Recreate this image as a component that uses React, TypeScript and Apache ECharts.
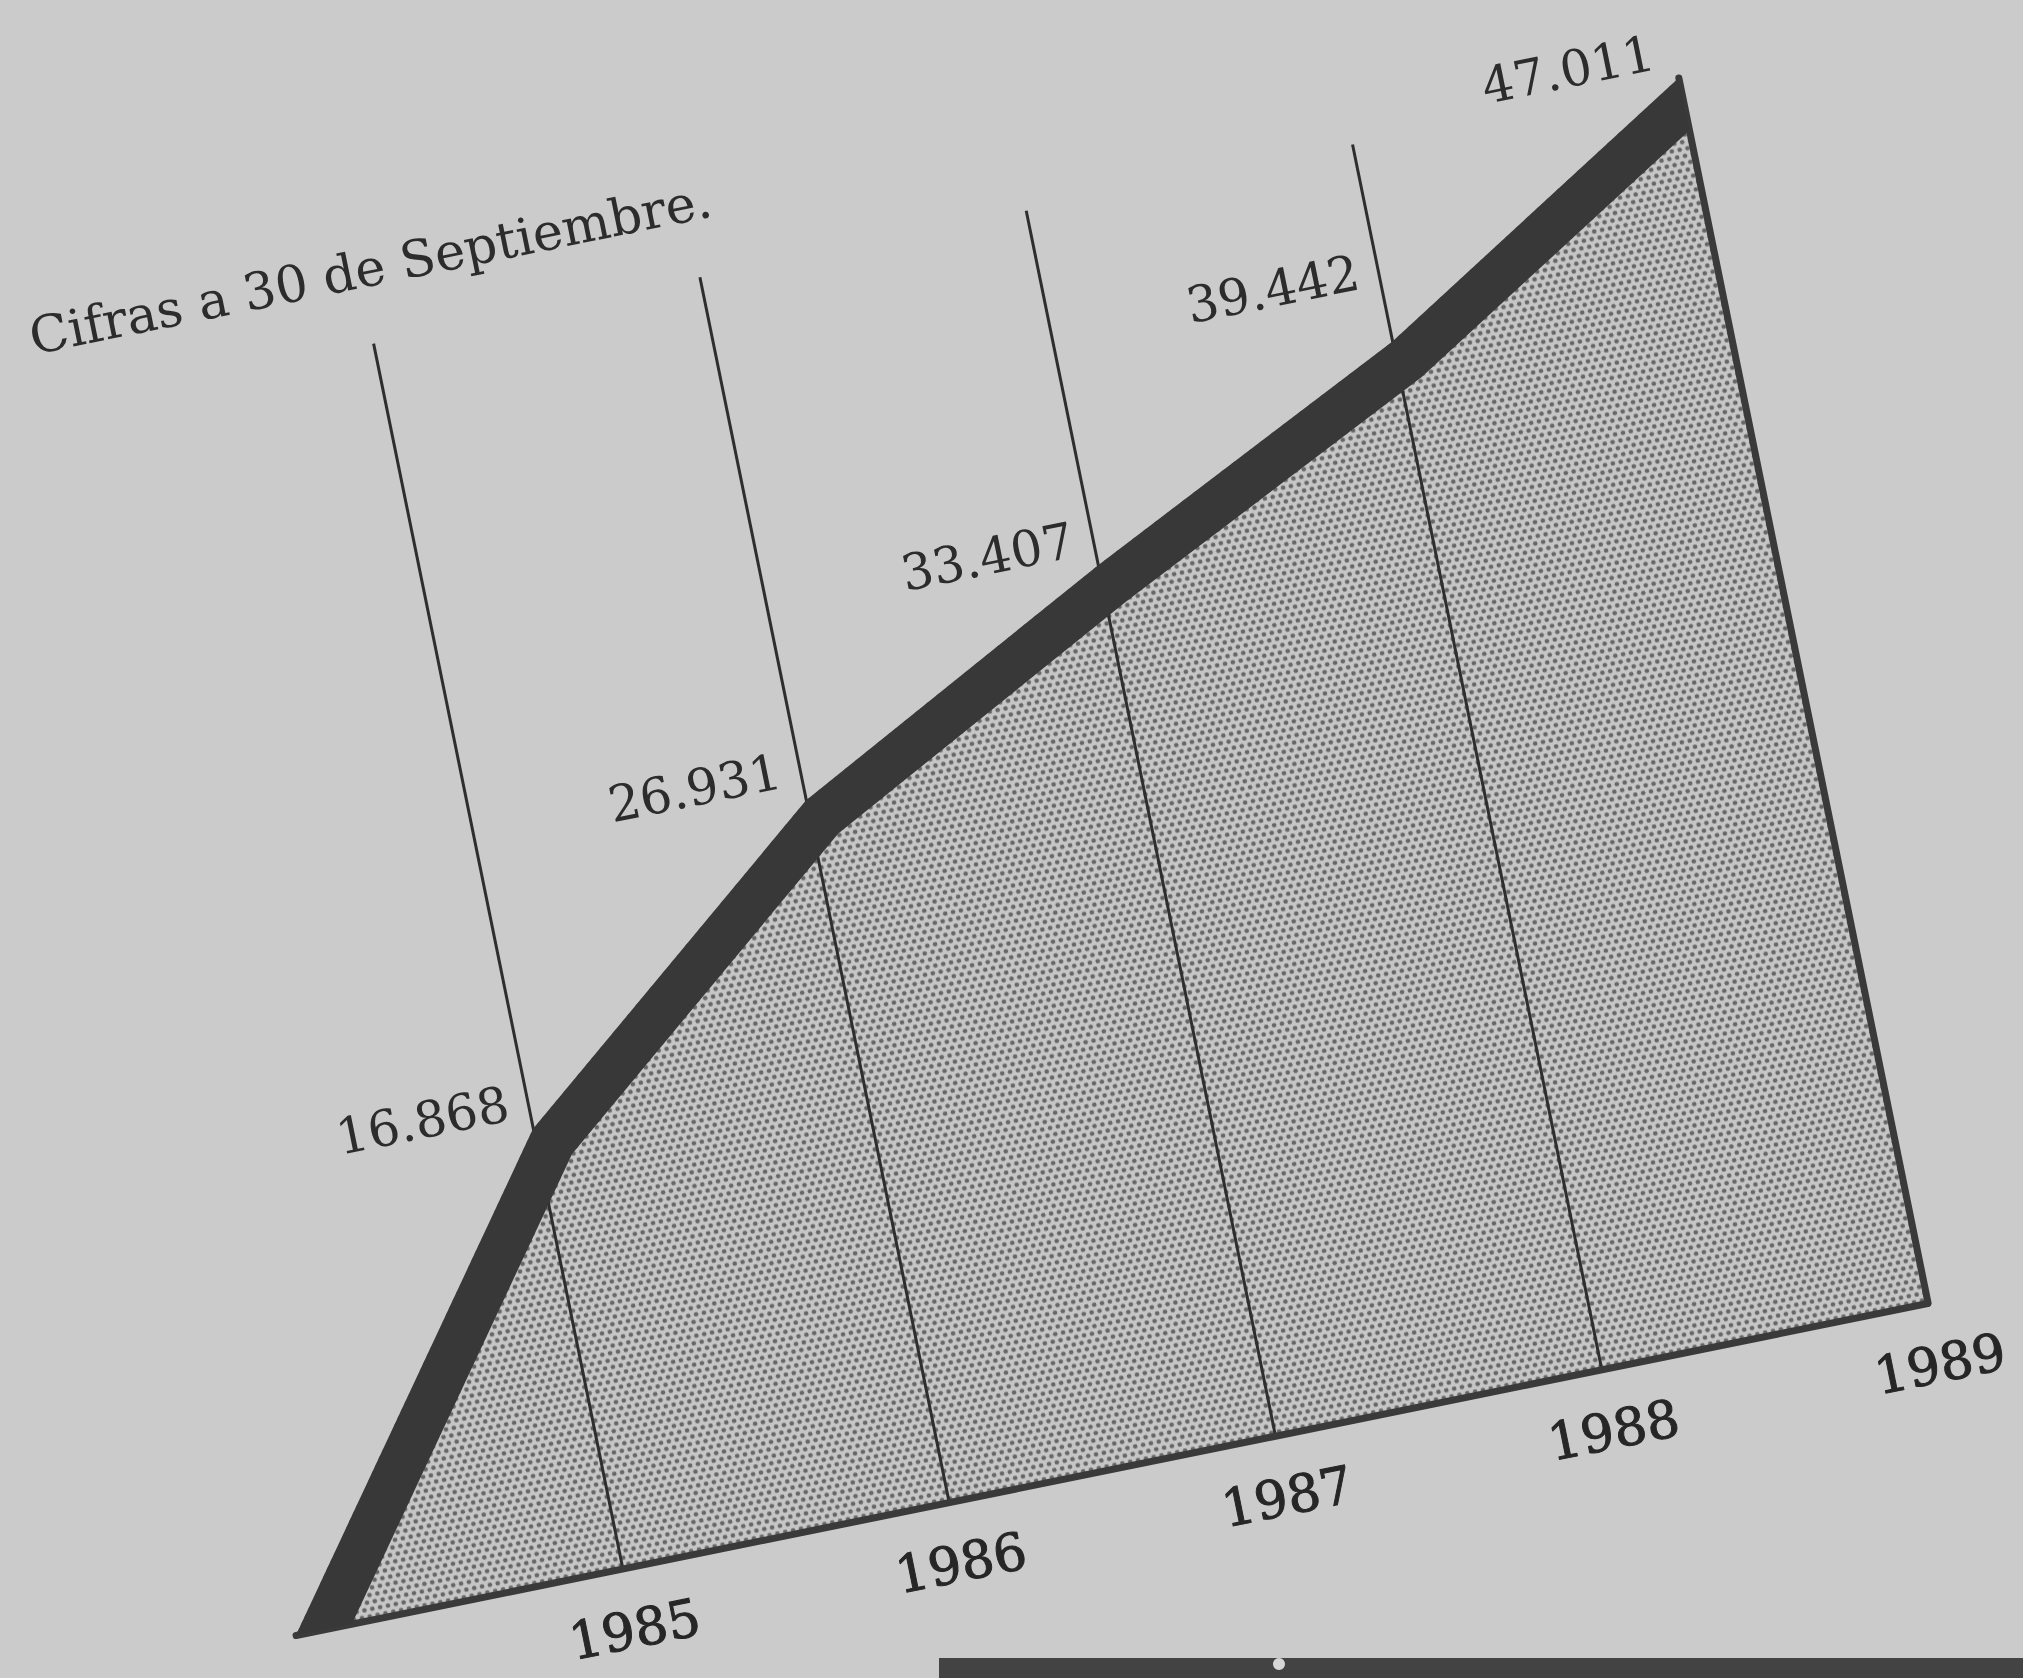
import React, { useEffect, useRef } from 'react';
import * as echarts from 'echarts';

// ---- data ----
const TITLE = 'Cifras a 30 de Septiembre.';
const START_YEAR = 1984;
const START_VALUE = 0;
const YEARS = [1985, 1986, 1987, 1988, 1989];
const VALUES = [16868, 26931, 33407, 39442, 47011];

// ---- layout / style ----
const PAGE_W = 2023;
const PAGE_H = 1678;
const ORIGIN_X = 296;
const ORIGIN_Y = 1635;
const ANGLE_DEG = -11.5;
const PAD_LEFT = 60;
const PAD_TOP = 150;
const PLOT_W = 1665;
const PLOT_H = 1250;
const BOX_W = 1860;
const BOX_H = 1530;
const GY = PAD_TOP + PLOT_H;

const PAPER = '#cbcbcb';
const INK = '#2c2c2c';
const BAND = '#383838';
const EDGE = '#3a3a3a';
const FONT = '"DejaVu Serif", "Liberation Serif", serif';
const BAND_T = 46;
const LABEL_LIFT = [30, 34, 30, 75, 30];

function fmt(v: number): string {
  const k = Math.floor(v / 1000);
  return k + '.' + String(v % 1000).padStart(3, '0');
}

function makeDots(): string {
  const c = document.createElement('canvas');
  c.width = 16;
  c.height = 14;
  const ctx = c.getContext('2d')!;
  ctx.fillStyle = '#c6c6c6';
  ctx.fillRect(0, 0, 16, 14);
  ctx.fillStyle = '#666666';
  const dots = [[4, 3.5], [12, 3.5], [0, 10.5], [8, 10.5], [16, 10.5]];
  for (const [x, y] of dots) {
    ctx.beginPath();
    ctx.arc(x, y, 2.3, 0, Math.PI * 2);
    ctx.fill();
  }
  return c.toDataURL();
}

export default function App() {
  const bgRef = useRef<HTMLDivElement>(null);
  const chartRef = useRef<HTMLDivElement>(null);

  useEffect(() => {
    const bg = echarts.init(bgRef.current!, undefined, { renderer: 'svg' });
    bg.setOption({
      animation: false,
      backgroundColor: PAPER,
      graphic: [
        { type: 'rect', shape: { x: 939, y: 1658, width: 1084, height: 20 }, style: { fill: '#434343' } },
        { type: 'circle', shape: { cx: 1279, cy: 1664, r: 6 }, style: { fill: '#d6d6d6' } },
      ],
    });

    const chart = echarts.init(chartRef.current!, undefined, { renderer: 'svg' });
    const xs = [START_YEAR, ...YEARS];
    const vs = [START_VALUE, ...VALUES];
    const points = xs.map((x, i) => [x, vs[i]]);
    const areaData = points.map((p, i) =>
      i === 0
        ? { value: p, label: { show: false } }
        : { value: p, label: { offset: [0, -LABEL_LIFT[i - 1]] } }
    );
    const dots = makeDots();

    const renderBand = (params: any, api: any) => {
      if (params.dataIndex !== 0) return null;
      const pts: number[][] = xs.map((x, i) => api.coord([x, vs[i]]));
      const baseY = api.coord([xs[0], 0])[1];
      const rightX = pts[pts.length - 1][0];
      const segs = [] as { d: number[]; n: number[] }[];
      for (let i = 0; i < pts.length - 1; i++) {
        const dx = pts[i + 1][0] - pts[i][0];
        const dy = pts[i + 1][1] - pts[i][1];
        const len = Math.hypot(dx, dy);
        segs.push({ d: [dx / len, dy / len], n: [-dy / len, dx / len] });
      }
      const lower: number[][] = [];
      {
        const s0 = segs[0];
        const qx = pts[0][0] + s0.n[0] * BAND_T;
        const qy = pts[0][1] + s0.n[1] * BAND_T;
        const s = (baseY - qy) / s0.d[1];
        lower.push([qx + s * s0.d[0], baseY]);
      }
      for (let i = 1; i < pts.length - 1; i++) {
        const a = segs[i - 1].n;
        const b = segs[i].n;
        let mx = a[0] + b[0];
        let my = a[1] + b[1];
        const ml = Math.hypot(mx, my);
        mx /= ml;
        my /= ml;
        const k = BAND_T / (mx * b[0] + my * b[1]);
        lower.push([pts[i][0] + mx * k, pts[i][1] + my * k]);
      }
      {
        const sl = segs[segs.length - 1];
        const last = pts[pts.length - 1];
        const qx = last[0] + sl.n[0] * BAND_T;
        const qy = last[1] + sl.n[1] * BAND_T;
        const s = (rightX - qx) / sl.d[0];
        lower.push([rightX, qy + s * sl.d[1]]);
      }
      const poly = [...pts, ...lower.reverse()];
      return { type: 'polygon', shape: { points: poly }, style: { fill: BAND } };
    };

    chart.setOption({
      animation: false,
      title: {
        text: TITLE,
        left: PAD_LEFT - 2,
        top: 50,
        padding: 0,
        textStyle: { fontFamily: FONT, fontSize: 51, fontWeight: 'normal', color: INK },
      },
      grid: { left: PAD_LEFT, top: PAD_TOP, width: PLOT_W, height: PLOT_H },
      xAxis: {
        type: 'value',
        min: START_YEAR,
        max: YEARS[YEARS.length - 1],
        interval: 1,
        z: 3,
        axisLine: { show: true, onZero: true, lineStyle: { color: EDGE, width: 7 } },
        axisTick: { show: false },
        axisLabel: {
          margin: 36,
          fontFamily: FONT,
          fontSize: 52,
          color: '#262626',
          textBorderColor: '#262626',
          textBorderWidth: 1,
          formatter: (v: number) => (YEARS.includes(v) ? String(v) : ''),
        },
        splitLine: {
          show: true,
          showMinLine: false,
          showMaxLine: false,
          lineStyle: { color: '#2e2e2e', width: 3 },
        },
      },
      yAxis: {
        type: 'value',
        position: 'right',
        min: 0,
        max: 'dataMax',
        z: 3,
        axisLine: { show: true, onZero: false, lineStyle: { color: EDGE, width: 7 } },
        axisTick: { show: false },
        axisLabel: { show: false },
        splitLine: { show: false },
      },
      series: [
        {
          type: 'line',
          data: areaData,
          z: 2,
          silent: true,
          symbol: 'circle',
          symbolSize: 2,
          showSymbol: true,
          itemStyle: { color: 'rgba(0,0,0,0)' },
          lineStyle: { width: 0 },
          areaStyle: {
            color: { image: dots, repeat: 'repeat', imageWidth: 16, imageHeight: 14 },
            opacity: 1,
          },
          label: {
            show: true,
            position: 'left',
            distance: 18,
            formatter: (p: any) => fmt(p.value[1]),
            fontFamily: FONT,
            fontSize: 50,
            color: INK,
          },
          emphasis: { disabled: true },
        },
        {
          type: 'custom',
          data: points,
          encode: { x: 0, y: 1 },
          z: 4,
          silent: true,
          renderItem: renderBand,
        },
      ],
    });

    return () => {
      chart.dispose();
      bg.dispose();
    };
  }, []);

  return (
    <div style={{ position: 'absolute', left: 0, top: 0, width: PAGE_W, height: PAGE_H, overflow: 'hidden' }}>
      <div ref={bgRef} style={{ position: 'absolute', left: 0, top: 0, width: PAGE_W, height: PAGE_H }} />
      <div
        ref={chartRef}
        style={{
          position: 'absolute',
          left: ORIGIN_X - PAD_LEFT,
          top: ORIGIN_Y - GY,
          width: BOX_W,
          height: BOX_H,
          transform: `rotate(${ANGLE_DEG}deg)`,
          transformOrigin: `${PAD_LEFT}px ${GY}px`,
        }}
      />
    </div>
  );
}
